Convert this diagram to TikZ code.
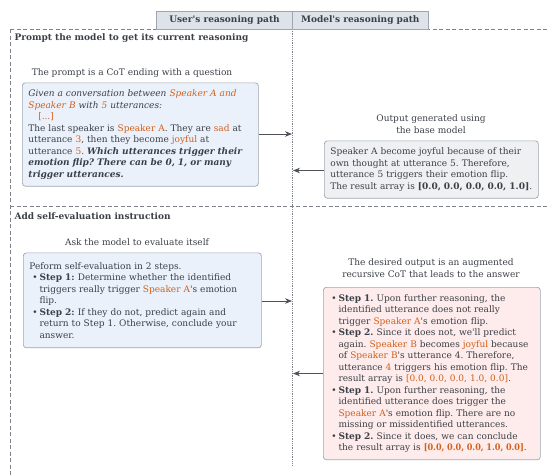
\documentclass[tikz,border=0pt]{standalone}
\usepackage{fontspec}
\setmainfont{DejaVu Serif}
\usetikzlibrary{arrows.meta}
\definecolor{txt}{HTML}{3B3F47}
\definecolor{orng}{HTML}{D2601A}
\definecolor{bluefill}{HTML}{EAF1FB}
\definecolor{grayfill}{HTML}{EEF0F2}
\definecolor{pinkfill}{HTML}{FDECEB}
\definecolor{hdrfill}{HTML}{DEE3EA}
\definecolor{bord}{HTML}{9EA6B1}
\definecolor{linec}{HTML}{7D828A}
\newcommand{\og}[1]{\textcolor{orng}{#1}}
\newcommand{\bul}{\makebox[0.8em][l]{\textbullet}}
\newcommand{\ind}{\hspace*{0.8em}}
\newcommand{\q}{\textquotesingle}
\frenchspacing
\tikzset{
  basetxt/.style={font=\fontsize{9}{11.5}\selectfont, text=txt},
  txtbox/.style={basetxt, draw=bord, line width=0.7pt, rounded corners=3pt, align=left, inner xsep=6pt, inner ysep=7pt, anchor=north west},
  hdrbox/.style={basetxt, font=\fontsize{9}{11.5}\selectfont\bfseries, draw=bord, fill=hdrfill, line width=0.7pt, minimum height=18pt, inner sep=0pt},
  captxt/.style={basetxt, align=center},
  sectxt/.style={basetxt, font=\fontsize{9}{11.5}\selectfont\bfseries, anchor=west},
  dshline/.style={draw=linec, line width=0.6pt, dash pattern=on 4pt off 2.5pt},
  dotline/.style={draw=linec, line width=0.6pt, dash pattern=on 0.8pt off 1pt},
  arrline/.style={line width=0.7pt, -{Stealth[length=7pt,width=5.5pt]}, draw=txt!90}
}
\begin{document}
\begin{tikzpicture}[x=1pt,y=-1pt]
\useasboundingbox (0,0) rectangle (548,475);
% frame lines
\coordinate (tl) at (10,29);
\coordinate (tr) at (548,29);
\coordinate (bl) at (10,475);
\coordinate (ml) at (10,206);
\coordinate (mr) at (548,206);
\coordinate (dt) at (292,29);
\coordinate (db) at (292,466);
\draw[dshline] (tl) -- (tr);
\draw[dshline] (tl) -- (bl);
\draw[dshline] (ml) -- (mr);
\draw[dotline] (dt) -- (db);
% header
\node[hdrbox, minimum width=136pt] (hu) at (224.5,20.5) {User\q s reasoning path};
\node[hdrbox, minimum width=136pt] (hm) at (360.3,20.5) {Model\q s reasoning path};
% section titles
\node[sectxt] (s1) at (11,38) {Prompt the model to get its current reasoning};
\node[sectxt] (s2) at (11,216.5) {Add self-evaluation instruction};
% captions
\node[captxt] (c1) at (132,73) {The prompt is a CoT ending with a question};
\node[captxt] (c2) at (431,124) {Output generated using\\the base model};
\node[captxt] (c3) at (137,242) {Ask the model to evaluate itself};
\node[captxt] (c4) at (431,268) {The desired output is an augmented\\recursive CoT that leads to the answer};
% boxes
\node[txtbox, fill=bluefill, text width=224pt] (b1) at (22,82.5) {%
\textit{Given a conversation between \og{Speaker A and}}\\
\textit{\og{Speaker B} with \og{5} utterances:}\\
\hspace*{1.1em}\og{[...]}\\
The last speaker is \og{Speaker A}. They are \og{sad} at\\
utterance \og{3}, then they become \og{joyful} at\\
utterance \og{5}. \textbf{\textit{Which utterances trigger their}}\\
\textbf{\textit{emotion flip? There can be 0, 1, or many}}\\
\textbf{\textit{trigger utterances.}}};
\node[txtbox, fill=grayfill, text width=202pt] (b2) at (324,140.5) {%
Speaker A become joyful because of their\\
own thought at utterance 5. Therefore,\\
utterance 5 triggers their emotion flip.\\
The result array is \textbf{[0.0, 0.0, 0.0, 0.0, 1.0]}.};
\node[txtbox, fill=bluefill, text width=226pt, inner ysep=9.5pt] (b3) at (23,252.5) {%
Peform self-evaluation in 2 steps.\\
\hspace*{3pt}\bul\textbf{Step 1:} Determine whether the identified\\
\hspace*{3pt}\ind triggers really trigger \og{Speaker A}\q s emotion\\
\hspace*{3pt}\ind flip.\\
\hspace*{3pt}\bul\textbf{Step 2:} If they do not, predict again and\\
\hspace*{3pt}\ind return to Step 1. Otherwise, conclude your\\
\hspace*{3pt}\ind answer.};
\node[txtbox, fill=pinkfill, inner xsep=5.5pt, text width=206pt] (b4) at (323,287) {%
\hspace*{2.5pt}\bul\textbf{Step 1.} Upon further reasoning, the\\
\hspace*{2.5pt}\ind identified utterance does not really\\
\hspace*{2.5pt}\ind trigger \og{Speaker A}\q s emotion flip.\\
\hspace*{2.5pt}\bul\textbf{Step 2.} Since it does not, we\q ll predict\\
\hspace*{2.5pt}\ind again. \og{Speaker B} becomes \og{joyful} because\\
\hspace*{2.5pt}\ind of \og{Speaker B}\q s utterance 4. Therefore,\\
\hspace*{2.5pt}\ind utterance \og{4} triggers his emotion flip. The\\
\hspace*{2.5pt}\ind result array is \og{[0.0, 0.0, 0.0, 1.0, 0.0]}.\\
\hspace*{2.5pt}\bul\textbf{Step 1.} Upon further reasoning, the\\
\hspace*{2.5pt}\ind identified utterance does trigger the\\
\hspace*{2.5pt}\ind \og{Speaker A}\q s emotion flip. There are no\\
\hspace*{2.5pt}\ind missing or missidentified utterances.\\
\hspace*{2.5pt}\bul\textbf{Step 2.} Since it does, we can conclude\\
\hspace*{2.5pt}\ind the result array is \og{\scalebox{0.9}[1]{\textbf{[0.0, 0.0, 0.0, 1.0, 0.0]}}}.};
% arrows
\coordinate (a1) at (292,134);
\coordinate (a2) at (293,170.5);
\coordinate (a3) at (292,301);
\coordinate (a4) at (293,373.5);
\draw[arrline] (b1.east |- a1) -- (a1);
\draw[arrline] (b2.west |- a2) -- (a2);
\draw[arrline] (b3.east |- a3) -- (a3);
\draw[arrline] (b4.west |- a4) -- (a4);
\end{tikzpicture}
\end{document}
